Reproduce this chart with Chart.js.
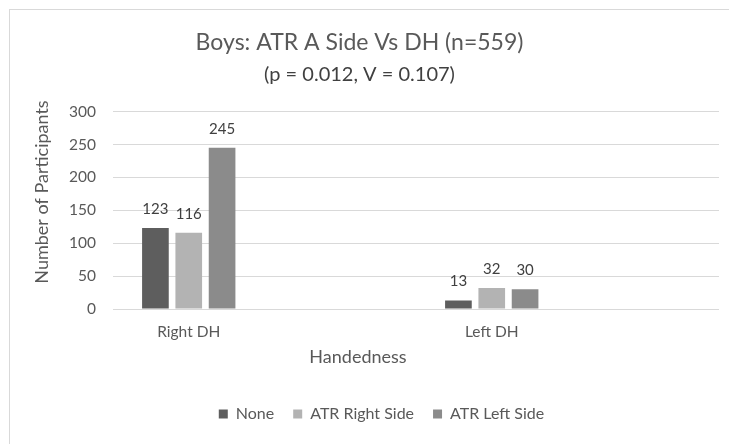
<!DOCTYPE html>
<html>
<head>
<meta charset="utf-8">
<script src="https://cdn.jsdelivr.net/npm/chart.js@4/dist/chart.umd.min.js"></script>
<style>
  html, body { margin: 0; padding: 0; background: #fff; overflow: hidden; }
  #frame { position: absolute; left: 9px; top: 9px; width: 800px; height: 500px; border: 1px solid #d9d9d9; }
  #wrap { position: absolute; left: 0; top: 0; width: 729px; height: 444px; }
</style>
</head>
<body>
<div id="frame"></div>
<div id="wrap"><canvas id="bargraph"></canvas></div>
<script>
let categories = ['Right DH', '', 'Left DH', ''];
let seriesNames = ['None', 'ATR Right Side', 'ATR Left Side'];
let none = [123, null, 13, null];
let atrRight = [116, null, 32, null];
let atrLeft = [245, null, 30, null];
let yTicks = [0, 50, 100, 150, 200, 250, 300];
let colors = ['#5e5e5e', '#b3b3b3', '#8b8b8b'];

let fontName = 'Lato, "Noto Sans", sans-serif';

// value labels on top of the bars + axis titles
let extras = {
    id: 'extras',
    afterLayout(chart) {
        // legend sits a bit right of centre in the original
        chart.legend.left += 22;
        chart.legend.right += 22;
    },
    afterDatasetsDraw(chart) {
        let ctx = chart.ctx;
        ctx.save();
        ctx.font = '15px ' + fontName;
        ctx.fillStyle = '#404040';
        ctx.textAlign = 'center';
        ctx.textBaseline = 'middle';
        chart.data.datasets.forEach(function(ds, i){
            chart.getDatasetMeta(i).data.forEach(function(bar, j){
                if (ds.data[j] === null) return;
                ctx.fillText(ds.data[j], bar.x, bar.y - 19);
            });
        });
        ctx.font = '18px ' + fontName;
        ctx.fillStyle = '#595959';
        ctx.fillText('Handedness', 358, 357);
        ctx.translate(42, 192);
        ctx.rotate(-Math.PI / 2);
        ctx.font = '18px ' + fontName;
        ctx.fillText('Number of Participants', 0, 0);
        ctx.restore();
    }
};

let bargraph = document.querySelector('#bargraph').getContext('2d');
let chart = new Chart(bargraph, {
    type: 'bar',
    data: {
        labels: categories,
        datasets: [
            { label: seriesNames[0], data: none, backgroundColor: colors[0] },
            { label: seriesNames[1], data: atrRight, backgroundColor: colors[1] },
            { label: seriesNames[2], data: atrLeft, backgroundColor: colors[2] }
        ]
    },
    options: {
        responsive: true,
        maintainAspectRatio: false,
        animation: false,
        categoryPercentage: 0.66,
        barPercentage: 0.8,
        layout: { padding: { left: 0, right: 10, top: 0, bottom: 12 } },
        plugins: {
            tooltip: { enabled: false },
            title: {
                display: true,
                text: 'Boys: ATR A Side Vs DH (n=559)',
                color: '#595959',
                font: { family: fontName, size: 23, weight: 'normal' },
                padding: { top: 29, bottom: 0 }
            },
            subtitle: {
                display: true,
                text: '(p = 0.012, V = 0.107)',
                color: '#404040',
                font: { family: fontName, size: 20 },
                padding: { top: 6, bottom: 25 }
            },
            legend: {
                position: 'bottom',
                labels: {
                    boxWidth: 9,
                    boxHeight: 9,
                    padding: 19,
                    color: '#595959',
                    font: { family: fontName, size: 16 }
                }
            }
        },
        scales: {
            x: {
                grid: { display: false },
                border: { display: false },
                ticks: { color: '#595959', padding: 6, font: { family: fontName, size: 15.5 } },
                afterFit(scale) { scale.height = 78; }
            },
            y: {
                min: 0,
                max: 300,
                afterBuildTicks(scale) { scale.ticks = yTicks.map(v => ({ value: v })); },
                grid: { color: '#d9d9d9', lineWidth: 1, drawTicks: false },
                border: { display: false },
                ticks: { color: '#595959', padding: 17, font: { family: fontName, size: 15.5 } },
                afterFit(scale) { scale.width = 113; }
            }
        }
    },
    plugins: [extras]
});
</script>
</body>
</html>
